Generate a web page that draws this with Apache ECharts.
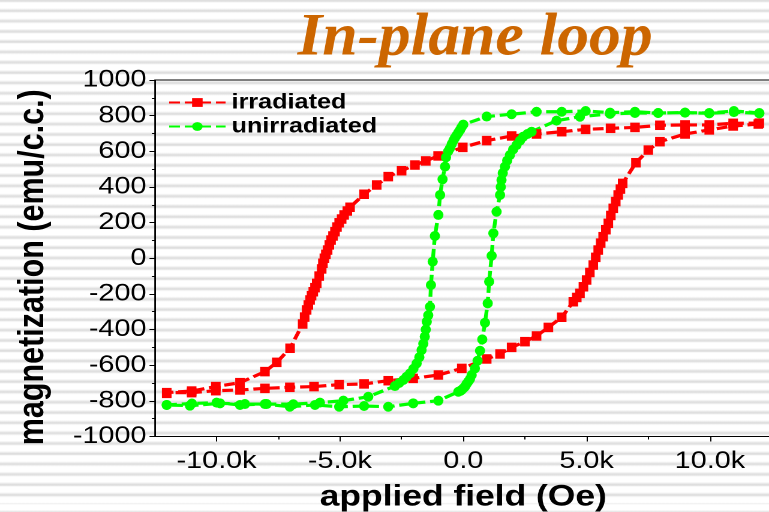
<!DOCTYPE html>
<html>
<head>
<meta charset="utf-8">
<script src="https://cdn.jsdelivr.net/npm/echarts@6/dist/echarts.min.js"></script>
<style>
  html, body {
    margin: 0;
    padding: 0;
    width: 769px;
    height: 512px;
    overflow: hidden;
  }
  body {
    background-color: #ffffff;
    background-image: repeating-linear-gradient(180deg,
      #ffffff 0px, #ffffff 5.6px, #ebebeb 7px, #dadada 8.3px, #ebebeb 9.6px, #ffffff 10.3px);
    background-position: 0 -7.7px;
  }
  /* the graph is laid out at 641px wide and stretched across the 769px slide */
  #chart {
    width: 641px;
    height: 512px;
    transform: scaleX(1.19969);
    transform-origin: 0 0;
  }
</style>
</head>
<body>
<div id="chart"></div>
<script>
// Applied field (Oe) and magnetization (emu/c.c.) for each branch of the loops.
// "down" = sweep from +H to -H, "up" = sweep from -H back to +H.
const irradiatedDownH = [12000, 10940, 9970, 8990, 7970, 6960, 5970, 4960, 3990, 2970,
  1960, 950, -20, -1020, -1520, -1960, -2500, -3040, -3510, -4020,
  -4590, -4700, -4830, -4930, -5030, -5120, -5200, -5280, -5360,
  -5430, -5500, -5570, -5630, -5690, -5740, -5840, -5940, -6010, -6080,
  -6150, -6210, -6280, -6350, -6430, -6510, -7020, -7560, -8040, -9050,
  -10030, -11010, -12020];
const irradiatedDownM = [758, 757, 748, 748, 746, 734, 729, 723, 710, 697,
  686, 660, 622, 574, 546, 523, 491, 458, 411, 359,
  286, 265, 243, 220, 199, 175, 149, 125, 102,
  75, 46, 22, 0, -28, -60, -100, -141, -165, -188,
  -210, -234, -262, -290, -330, -369, -505, -584, -636, -698,
  -720, -745, -754];

const irradiatedUpH = [-12020, -11010, -10030, -9050, -8040, -7030, -6050, -5030, -4020, -3040,
  -2030, -1010, -60, 950, 1490, 1960, 2500, 2970, 3450, 3990,
  4460, 4600, 4730, 4870, 5000, 5130, 5270, 5370, 5470, 5570,
  5670, 5780, 5880, 5980, 6080, 6180, 6280, 6370, 6460, 7000,
  7500, 7970, 8990, 9970, 10940, 11960];
const irradiatedUpM = [-758, -754, -743, -739, -730, -724, -720, -709, -705, -687,
  -674, -655, -618, -565, -537, -500, -468, -436, -388, -331,
  -244, -220, -197, -160, -122, -80, -38, 5, 46, 85,
  121, 160, 196, 240, 280, 318, 355, 388, 420, 536,
  607, 654, 697, 720, 742, 753];

const unirradiatedDownH = [12000, 10970, 9970, 8990, 7900, 6960, 5950, 4960, 3990, 2970,
  1960, 950, 0, -70, -130, -200, -270, -340, -400, -470,
  -540, -610, -700, -740, -840, -940, -1010, -1150, -1240, -1310,
  -1350, -1420, -1480, -1520, -1560, -1620, -1690, -1780, -1890, -2020,
  -2160, -2300, -2430, -2600, -2770, -3850, -4860, -5810, -6890, -7970,
  -8850, -9860, -11080, -12020];
const unirradiatedDownM = [815, 826, 815, 817, 815, 822, 817, 826, 822, 822,
  808, 795, 750, 735, 720, 705, 690, 675, 660, 640,
  617, 600, 566, 514, 443, 355, 243, 125, -19, -150,
  -272, -320, -356, -400, -440, -480, -515, -555, -590, -620,
  -646, -665, -683, -700, -717, -777, -799, -810, -819, -818,
  -818, -814, -827, -823];

const unirradiatedUpH = [-12020, -11000, -10000, -9050, -8040, -7030, -6010, -5030, -4020, -3040,
  -2030, -1010, -200, -130, -60, 0, 70, 130, 200, 270,
  340, 470, 580, 680, 770, 880, 990, 1050, 1150, 1220,
  1350, 1490, 1520, 1550, 1600, 1690, 1780, 1890, 2020, 2160,
  2300, 2430, 2600, 2770, 3780, 4730, 5950, 6960, 7900, 8990,
  9970, 10970, 12000];
const unirradiatedUpM = [-823, -815, -810, -823, -818, -833, -823, -833, -829, -833,
  -814, -799, -749, -745, -738, -730, -720, -706, -692, -678,
  -655, -618, -575, -519, -455, -362, -253, -131, 14, 140,
  261, 355, 400, 439, 478, 514, 548, 579, 610, 635,
  660, 682, 697, 710, 772, 794, 810, 815, 815, 817,
  813, 820, 813];

const seriesNames = ['irradiated', 'unirradiated'];
const xMajorTicks = [-10000, -5000, 0, 5000, 10000];
const xMinorTicks = [-7500, -2500, 2500, 7500];

const titleText = 'In-plane loop';
const xAxisTitle = 'applied field (Oe)';
const yAxisTitle = 'magnetization (emu/c.c.)';

// join the two sweeps of a loop into one ordered list of [H, M] points
function loop(downH, downM, upH, upM) {
  const pts = [];
  downH.forEach((h, i) => pts.push([h, downM[i]]));
  upH.forEach((h, i) => pts.push([h, upM[i]]));
  return pts;
}

function fieldLabel(v) {
  if (v === 0) return '0.0';
  return (v / 1000).toFixed(1) + 'k';
}

const SANS = "'Liberation Sans', Arial, sans-serif";
const STRETCH = 769 / 641;

const chart = echarts.init(document.getElementById('chart'), null, { devicePixelRatio: 2 });

chart.setOption({
  animation: false,
  backgroundColor: 'transparent',
  graphic: [{
    type: 'text',
    x: 396,
    y: 39,
    scaleX: 1.06 / STRETCH,
    style: {
      text: titleText,
      x: 0,
      y: 0,
      align: 'center',
      verticalAlign: 'middle',
      font: "bold italic 60px 'Liberation Serif', 'Times New Roman', serif",
      fill: '#CC6600'
    }
  }],
  grid: {
    left: 129.1,
    right: -2.2,
    top: 80,
    bottom: 75.5,
    outerBoundsMode: 'none',
    containLabel: false,
    show: true,
    borderColor: '#000',
    borderWidth: 1,
    backgroundColor: 'transparent'
  },
  legend: {
    orient: 'vertical',
    left: 135,
    top: 87,
    itemWidth: 47,
    itemHeight: 11,
    itemGap: 3,
    textStyle: { fontFamily: SANS, fontWeight: 'bold', fontSize: 21, color: '#000' },
    data: seriesNames
  },
  xAxis: [{
    type: 'value',
    min: -12500,
    max: 12500,
    interval: 2500,
    position: 'bottom',
    name: xAxisTitle,
    nameLocation: 'middle',
    nameGap: 46,
    nameTextStyle: { fontFamily: SANS, fontWeight: 'bold', fontSize: 29.5, color: '#000' },
    axisLine: { show: true, onZero: false, lineStyle: { color: '#000', width: 1 } },
    axisTick: { show: true, customValues: xMajorTicks, length: 5, lineStyle: { color: '#000' } },
    axisLabel: {
      customValues: xMajorTicks,
      formatter: fieldLabel,
      fontFamily: SANS, fontSize: 24, color: '#000', margin: 13
    },
    splitLine: { show: false }
  }, {
    type: 'value',
    min: -12500,
    max: 12500,
    interval: 2500,
    position: 'bottom',
    axisLine: { show: false, onZero: false },
    axisTick: { show: true, customValues: xMinorTicks, length: 3, lineStyle: { color: '#000' } },
    axisLabel: { show: false },
    splitLine: { show: false }
  }],
  yAxis: {
    type: 'value',
    min: -1000,
    max: 1000,
    interval: 200,
    name: yAxisTitle,
    nameLocation: 'middle',
    nameRotate: 90,
    nameGap: 86,
    nameTextStyle: {
      fontFamily: SANS, fontWeight: 'bold', fontSize: 30.5, color: '#000',
      padding: [0, 18, 0, 0]
    },
    axisLine: { show: true, onZero: false, lineStyle: { color: '#000', width: 1 } },
    axisTick: { show: true, length: 4.5, lineStyle: { color: '#000' } },
    minorTick: { show: true, splitNumber: 2, length: 2.5, lineStyle: { color: '#000' } },
    axisLabel: {
      fontFamily: SANS, fontSize: 24, color: '#000', margin: 7,
      formatter: (v) => String(v)
    },
    splitLine: { show: false }
  },
  series: [{
    name: seriesNames[0],
    type: 'line',
    xAxisIndex: 0,
    data: loop(irradiatedDownH, irradiatedDownM, irradiatedUpH, irradiatedUpM),
    symbol: 'rect',
    symbolSize: [8, 9.5],
    showAllSymbol: true,
    itemStyle: { color: '#FF0000' },
    lineStyle: { color: '#FF0000', width: 3.2, type: [9, 4] }
  }, {
    name: seriesNames[1],
    type: 'line',
    xAxisIndex: 0,
    data: loop(unirradiatedDownH, unirradiatedDownM, unirradiatedUpH, unirradiatedUpM),
    symbol: 'circle',
    symbolSize: [8.5, 10],
    showAllSymbol: true,
    itemStyle: { color: '#00FF00' },
    lineStyle: { color: '#00FF00', width: 3.2, type: [9, 4] }
  }]
});
</script>
</body>
</html>
